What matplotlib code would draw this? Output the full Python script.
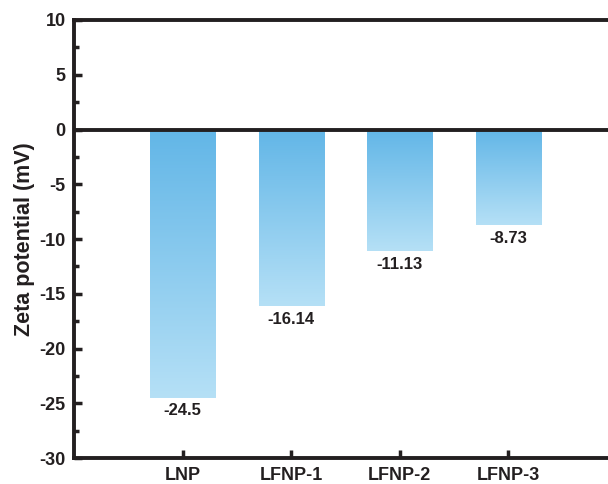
import numpy as np
import matplotlib.pyplot as plt
from matplotlib.colors import LinearSegmentedColormap
from matplotlib.ticker import MultipleLocator

plt.rcParams['font.family'] = ['Liberation Sans', 'DejaVu Sans']
plt.rcParams['font.weight'] = 'bold'
plt.rcParams['axes.unicode_minus'] = False

samples = ["LNP", "LFNP-1", "LFNP-2", "LFNP-3"]
zeta = [-24.5, -16.14, -11.13, -8.73]
labels = ["-24.5", "-16.14", "-11.13", "-8.73"]

fig = plt.figure(figsize=(6.08, 4.84), dpi=100)
ax = fig.add_axes([74 / 608, 1 - 458 / 484, 543 / 608, 438 / 484])

cmap = LinearSegmentedColormap.from_list("blu", ["#62b6e7", "#b5e0f6"])
x = np.arange(1, len(samples) + 1)
width = 0.6
bars = ax.bar(x, zeta, width=width, color="none", edgecolor="none")
grad = np.linspace(0, 1, 256).reshape(-1, 1)
for b, v in zip(bars, zeta):
    x0 = b.get_x()
    im = ax.imshow(grad, cmap=cmap, aspect="auto",
                   extent=[x0, x0 + width, v, 0], origin="upper", zorder=1)
    im.set_clip_path(b)

for xi, v, lab in zip(x, zeta, labels):
    ax.text(xi, v - 0.5, lab, ha="center", va="top", fontsize=12, fontweight="bold",
            color="#231f20")

ax.axhline(0, color="#231f20", lw=2.8, zorder=3)

ax.set_xlim(0, 5)
ax.set_ylim(-30, 10)
ax.set_xticks(x)
ax.set_xticklabels(samples)
ax.yaxis.set_major_locator(MultipleLocator(5))
ax.yaxis.set_minor_locator(MultipleLocator(2.5))
ax.set_ylabel("Zeta potential (mV)", fontsize=15.5, fontweight="bold", labelpad=3,
              color="#231f20")

for s in ax.spines.values():
    s.set_linewidth(2.8)
    s.set_color("#231f20")
ax.tick_params(axis="both", which="major", direction="in", length=6, width=2.5,
               labelsize=13, color="#231f20", labelcolor="#231f20", pad=6)
ax.tick_params(axis="y", which="minor", direction="in", length=3.5, width=2.5,
               color="#231f20")
ax.tick_params(axis="x", pad=6.5)

fig.savefig("out.png", dpi=100)
